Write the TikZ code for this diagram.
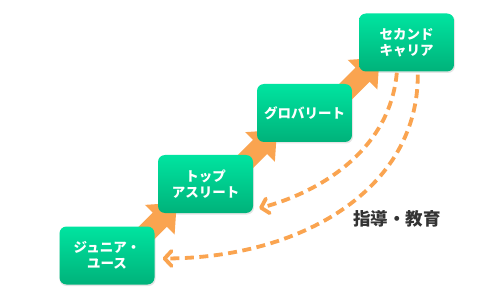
\documentclass[tikz,border=0pt]{standalone}
\usepackage{fontspec}
\newfontfamily\jp{Noto Sans CJK JP}
\usetikzlibrary{calc,arrows.meta}
\definecolor{gtop}{RGB}{0,228,160}
\definecolor{gbot}{RGB}{0,178,122}
\definecolor{org}{RGB}{250,164,80}
\definecolor{lbl}{RGB}{51,51,51}
\tikzset{
  stepbox/.style={rounded corners=7pt, top color=gtop, bottom color=gbot, draw=none,
    minimum width=95pt, minimum height=58pt, inner sep=0pt, align=center,
    text=white, font=\jp\bfseries\fontsize{13.5}{15.5}\selectfont},
  boxshadow/.style={fill=black, opacity=0.10, rounded corners=7pt},
  bigarrow/.style={fill=org, draw=none},
  backarrow/.style={draw=org, line width=3.8pt, dash pattern=on 9pt off 5.5pt,
    -{Straight Barb[length=7pt,width=15pt,line cap=round,line join=round]}},
}
\newcommand{\bigarrowshape}{(-40,-10) -- (0,-10) -- (0,-21) -- (24,0) -- (0,21) -- (0,10) -- (-40,10) -- cycle}
\begin{document}
\begin{tikzpicture}[x=1pt,y=-1pt]
\useasboundingbox[fill=white] (0,0) rectangle (498,302);
% box positions
\coordinate (c1) at (107,255.5);
\coordinate (c2) at (205.5,184);
\coordinate (c3) at (304.5,113);
\coordinate (c4) at (406.5,42.5);
% shadows
\foreach \c in {c1,c2,c3,c4}{
  \fill[boxshadow] ($(\c)+(-47.5,-28)$) rectangle ($(\c)+(48.5,30.5)$);
}
% placeholder nodes for anchors
\path (c1) node[minimum width=95pt,minimum height=58pt] (b1) {};
\path (c2) node[minimum width=95pt,minimum height=58pt] (b2) {};
\path (c3) node[minimum width=95pt,minimum height=58pt] (b3) {};
\path (c4) node[minimum width=95pt,minimum height=58pt] (b4) {};
% orange step arrows
\coordinate (m1) at ($($(b1.north east)!0.5!(b2.south west)$)+(3.5,0)$);
\coordinate (m2) at ($($(b2.north east)!0.5!(b3.south west)$)+(5,-1.5)$);
\coordinate (m3) at ($($(b3.north east)!0.5!(b4.south west)$)+(7,-3)$);
\foreach \m in {m1,m2,m3}{
  \fill[bigarrow, shift={(\m)}, rotate=45] \bigarrowshape;
}
% boxes
\node[stepbox] (n1) at (c1) {ジュニア・\\ユース};
\node[stepbox] (n2) at (c2) {トップ\\アスリート};
\node[stepbox] (n3) at (c3) {グロバリート};
\node[stepbox] (n4) at (c4) {セカンド\\キャリア};
% dashed return arrows
\coordinate (s1) at ($(n4.south west)+(38,1)$);
\coordinate (s2) at ($(n4.south west)+(59,3)$);
\coordinate (e1) at ($(n2.south east)+(6,-5)$);
\coordinate (e2) at ($(n1.east)+(8,3)$);
\draw[backarrow] (s1) .. controls (390,150) and (320,192) .. (e1);
\draw[backarrow] (s2) .. controls (418,190) and (300,258) .. (e2);
\node[text=lbl, font=\jp\bfseries\fontsize{17.5}{20}\selectfont] (lab) at (397,219) {指導・教育};
\end{tikzpicture}
\end{document}
